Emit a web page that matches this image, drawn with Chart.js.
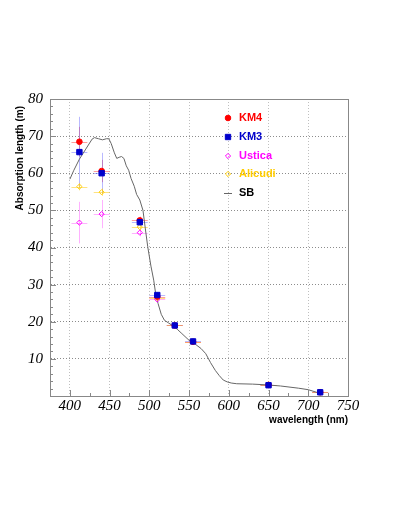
<!DOCTYPE html>
<html>
<head>
<meta charset="utf-8">
<script src="https://cdn.jsdelivr.net/npm/chart.js@4.4.1/dist/chart.umd.min.js"></script>
<style>
html, body { margin: 0; padding: 0; background: #fff; }
#wrap { width: 409px; height: 529px; position: relative; }
</style>
</head>
<body>
<div id="wrap"><canvas id="c"></canvas></div>
<script>
// measured wavelengths (nm) and absorption lengths (m)
const wl = [412, 440, 488, 510, 532, 555, 650, 715];
const wlErr = 10;
const km4 = [68.5, 60.6, 47.3, 26.8, 19.0, 14.6, 3.0, 1.0];
const km4Err = [4.0, 3.0, 1.0, 0.8, 0.5, 0.5, 0.3, 0.2];
const km3 = [65.7, 60.0, 46.8, 27.2, 19.0, 14.7, 2.9, 1.0];
const km3Err = [9.5, 5.5, 1.0, 0.8, 0.5, 0.5, 0.3, 0.2];
const ustica = [46.7, 49.0, 44.0, 26.0, 19.0, 14.5, 3.0, 1.0];
const usticaErr = [5.6, 3.8, 1.0, 0.8, 0.5, 0.5, 0.3, 0.2];
const alicudi = [56.4, 54.9, 45.5, 26.4, 19.0, 14.6, 3.0, 1.0];
const alicudiErr = [1.0, 1.0, 1.0, 0.8, 0.5, 0.5, 0.3, 0.2];

// SB curve
const sbWl = [400, 405, 412, 420, 428, 431, 436, 441, 446, 449, 452, 456, 459, 462, 465, 468, 471, 474, 477, 481, 484, 488, 492, 495, 498, 502, 505.5, 508, 511, 515, 519, 524, 529, 535, 540, 550, 555, 560, 565, 571, 577, 583, 588, 593, 598, 603, 610, 630, 648, 665, 688, 700, 712];
const sbVal = [58.4, 60.8, 63.8, 66.5, 69.2, 69.6, 69.3, 69.0, 69.3, 69.3, 68.0, 65.5, 64.0, 64.3, 64.5, 64.0, 62.0, 60.8, 58.6, 56.5, 54.3, 52.8, 50.0, 45.0, 40.2, 35.0, 31.2, 27.5, 24.9, 22.0, 20.4, 19.7, 19.0, 18.0, 17.0, 15.0, 14.5, 13.6, 12.8, 11.4, 9.0, 6.9, 5.5, 4.3, 3.8, 3.5, 3.3, 3.2, 3.0, 2.7, 2.1, 1.7, 0.9];

const xTicks = [400, 450, 500, 550, 600, 650, 700, 750];
const yTicks = [10, 20, 30, 40, 50, 60, 70, 80];

const pts = (xs, ys) => xs.map((x, i) => ({ x: x, y: ys[i] }));

const series = [
  { label: 'KM4', ys: km4, err: km4Err, color: '#ff0000', errColor: 'rgba(255,60,60,0.5)', style: 'circle', r: 2.8, fill: true },
  { label: 'KM3', ys: km3, err: km3Err, color: '#0000cc', errColor: 'rgba(80,80,255,0.4)', style: 'rect', r: 3.8, fill: true },
  { label: 'Ustica', ys: ustica, err: usticaErr, color: '#ff00ff', errColor: 'rgba(255,60,255,0.4)', style: 'rectRot', r: 2.6, fill: false },
  { label: 'Alicudi', ys: alicudi, err: alicudiErr, color: '#ffcc00', errColor: 'rgba(255,200,0,0.5)', style: 'rectRot', r: 2.6, fill: false }
];
const drawOrder = { KM3: 0, KM4: 1, Ustica: 2, Alicudi: 3 };

const datasets = series.map(s => ({
  label: s.label,
  data: pts(wl, s.ys),
  errs: s.err,
  errColor: s.errColor,
  pointStyle: s.style,
  pointRadius: s.r,
  pointBorderWidth: 1,
  borderColor: s.color,
  backgroundColor: s.fill ? s.color : 'rgba(0,0,0,0)',
  showLine: false,
  order: drawOrder[s.label]
}));
datasets.push({
  label: 'SB',
  data: pts(sbWl, sbVal),
  showLine: true,
  pointRadius: 0,
  borderColor: '#666',
  borderWidth: 1,
  tension: 0,
  order: 4
});

const errorBars = {
  id: 'errorBars',
  beforeDatasetsDraw(chart) {
    const { ctx, scales: { x, y } } = chart;
    ctx.save();
    ctx.lineWidth = 1;
    chart.data.datasets.forEach(ds => {
      if (!ds.errs) return;
      ctx.strokeStyle = ds.errColor;
      ds.data.forEach((p, i) => {
        const px = Math.round(x.getPixelForValue(p.x)) + 0.5;
        const py = Math.round(y.getPixelForValue(p.y)) + 0.5;
        ctx.beginPath();
        ctx.moveTo(x.getPixelForValue(p.x - wlErr), py);
        ctx.lineTo(x.getPixelForValue(p.x + wlErr), py);
        ctx.moveTo(px, y.getPixelForValue(p.y - ds.errs[i]));
        ctx.lineTo(px, y.getPixelForValue(p.y + ds.errs[i]));
        ctx.stroke();
      });
    });
    ctx.restore();
  }
};

const frame = {
  id: 'frame',
  afterDraw(chart) {
    const { ctx, chartArea: a, scales: { x, y } } = chart;
    ctx.save();
    ctx.strokeStyle = '#888';
    ctx.lineWidth = 1;
    ctx.strokeRect(a.left + 0.5, a.top + 0.5, a.right - a.left, a.bottom - a.top);
    // ticks pointing inward
    ctx.beginPath();
    for (let v = 375; v <= 750; v += 25) {
      const px = Math.round(x.getPixelForValue(v)) + 0.5;
      const len = v % 50 === 0 ? 6 : 3;
      ctx.moveTo(px, a.bottom); ctx.lineTo(px, a.bottom - len);
    }
    for (let v = 2; v < 80; v += 2) {
      const py = Math.round(y.getPixelForValue(v)) + 0.5;
      const len = v % 10 === 0 ? 6 : 3;
      ctx.moveTo(a.left, py); ctx.lineTo(a.left + len, py);
    }
    ctx.stroke();

    // axis titles
    ctx.fillStyle = '#000';
    ctx.font = 'bold 10px "Liberation Sans", Arial, sans-serif';
    ctx.textAlign = 'right';
    ctx.textBaseline = 'middle';
    ctx.fillText('wavelength (nm)', a.right, 420);
    ctx.save();
    ctx.translate(20, a.top + 7);
    ctx.rotate(-Math.PI / 2);
    ctx.fillText('Absorption length (m)', 0, 0);
    ctx.restore();

    // legend
    const lx = 228, tx = 239, rows = [118, 137, 156, 174, 193];
    ctx.textAlign = 'left';
    ctx.font = 'bold 11px "Liberation Sans", Arial, sans-serif';
    chart.data.datasets.forEach((ds, i) => {
      const ly = rows[i];
      ctx.strokeStyle = ds.borderColor;
      ctx.fillStyle = ds.backgroundColor;
      ctx.lineWidth = 1;
      if (ds.showLine) {
        ctx.beginPath(); ctx.moveTo(lx - 4, ly + 0.5); ctx.lineTo(lx + 4, ly + 0.5); ctx.stroke();
        ctx.fillStyle = '#000';
      } else {
        Chart.helpers.drawPoint(ctx, { pointStyle: ds.pointStyle, radius: ds.pointRadius, borderWidth: 1, rotation: 0 }, lx, ly);
        ctx.fillStyle = ds.borderColor;
      }
      ctx.fillText(ds.label, tx, ly);
    });
    ctx.restore();
  }
};

new Chart(document.getElementById('c'), {
  type: 'scatter',
  data: { datasets: datasets },
  options: {
    responsive: true,
    maintainAspectRatio: false,
    animation: false,
    layout: { padding: { top: 99, right: 61, bottom: 0, left: 0 } },
    plugins: { legend: { display: false }, tooltip: { enabled: false } },
    scales: {
      x: {
        type: 'linear', min: 375, max: 750,
        afterBuildTicks: s => { s.ticks = xTicks.map(v => ({ value: v })); },
        afterFit: s => { s.height = 133; },
        grid: { color: 'rgba(0,0,0,0.25)', drawTicks: false },
        border: { color: '#888', dash: [1, 2] },
        ticks: { color: '#000', padding: 1, maxRotation: 0, font: { family: '"Liberation Serif", serif', style: 'italic', size: 15 } }
      },
      y: {
        type: 'linear', min: 0, max: 80,
        afterBuildTicks: s => { s.ticks = yTicks.map(v => ({ value: v })); },
        afterFit: s => { s.width = 50; },
        grid: { color: 'rgba(0,0,0,0.45)', drawTicks: false },
        border: { color: '#888', dash: [1, 2] },
        ticks: { color: '#000', padding: 7, font: { family: '"Liberation Serif", serif', style: 'italic', size: 15 } }
      }
    }
  },
  plugins: [errorBars, frame]
});
</script>
</body>
</html>
